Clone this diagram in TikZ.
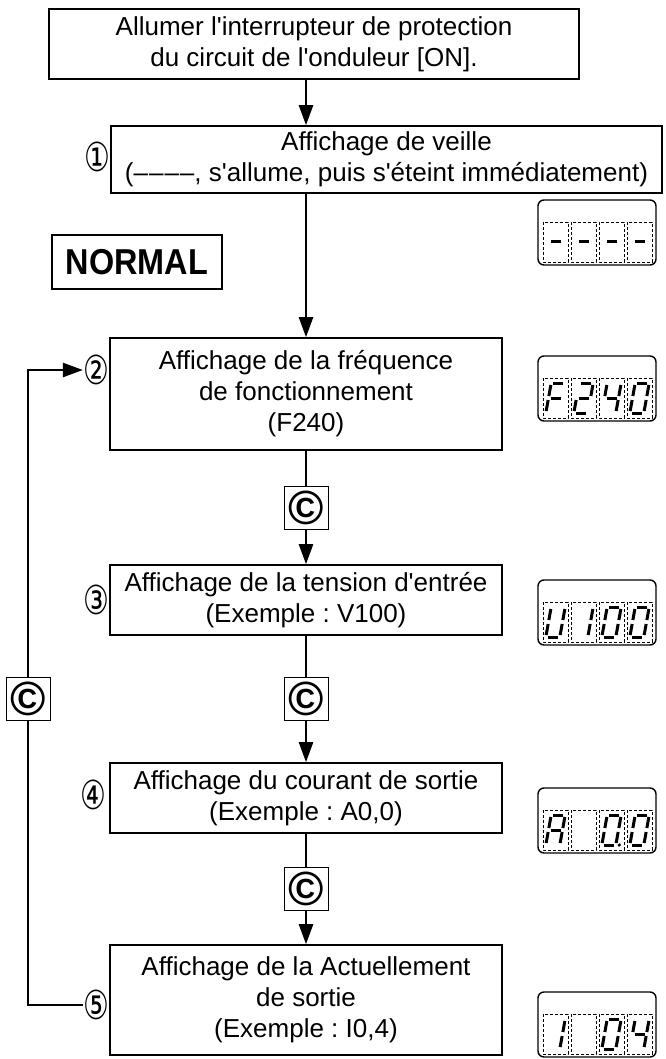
\documentclass[tikz,border=0pt]{standalone}
\usepackage{fontspec}
\setmainfont{Liberation Sans}[Ligatures=TeXOff]
\newfontfamily\circfont{DejaVu Sans}
\usetikzlibrary{arrows.meta,positioning}

% seven-segment pieces (local coordinates, y pointing down)
\newcommand{\lcdsega}{\draw[segline] (-5,-15) -- (5,-15);}
\newcommand{\lcdsegb}{\draw[segline] (7,-13) -- (7,-2);}
\newcommand{\lcdsegc}{\draw[segline] (7,2) -- (7,13);}
\newcommand{\lcdsegd}{\draw[segline] (-5,15) -- (5,15);}
\newcommand{\lcdsege}{\draw[segline] (-7,2) -- (-7,13);}
\newcommand{\lcdsegf}{\draw[segline] (-7,-13) -- (-7,-2);}
\newcommand{\lcdsegg}{\draw[segline] (-5,0) -- (5,0);}
\newcommand{\lcdsegp}{\fill (10.5,15) circle (1.8pt);}

% display frame: name, top edge
\newcommand{\lcdframe}[2]{%
  \node[lcdbox] (#1) at (597,#2+32.5) {};
  \foreach \i in {0,...,3}
    \draw[celldash] ({543+28*\i},#2+22) rectangle ({568+28*\i},#2+62);}

% one digit: cell index, top edge of display, segments
\newcommand{\lcddigit}[3]{%
  \begin{scope}[shift={({555.5+28*#1},{#2+42})}, xslant=0.18]
    \foreach \sg in {#3} {\csname lcdseg\sg\endcsname}
  \end{scope}}

% circled step number
\newcommand{\stepnum}[1]{\scalebox{0.72}[1]{#1}}

\begin{document}
\frenchspacing
\begin{tikzpicture}[x=1pt, y=-1pt,
    flowbox/.style={draw, line width=1.6pt, align=center, inner sep=2pt,
      font=\fontsize{26}{31}\selectfont}, % step boxes
    numlabel/.style={inner sep=0pt, font=\circfont\fontsize{40}{40}\selectfont},
    cbox/.style={draw, line width=1pt, minimum width=44pt, minimum height=43pt,
      inner sep=0pt, font=\fontsize{48}{48}\selectfont\bfseries}, % key boxes
    lcdbox/.style={draw, line width=1.4pt, rounded corners=6pt,
      minimum width=118pt, minimum height=65pt, inner sep=0pt},
    celldash/.style={line width=0.7pt, dash pattern=on 3pt off 2pt},
    segline/.style={line width=3pt},
    link/.style={line width=2.4pt},
    flowarrow/.style={link, -{Triangle[length=20pt, width=14pt]}}
]
    \useasboundingbox (0,0) rectangle (665,1059);

    % main column
    \coordinate (axis) at (306,0);

    % Boxes
    \node[flowbox, minimum width=530pt, minimum height=70pt] (start) at (314,44)
        {Allumer l'interrupteur de protection\\du circuit de l'onduleur [ON].};
    \node[flowbox, minimum width=551pt, minimum height=67pt] (standby) at (386.5,159.5)
        {Affichage de veille\\(–\kern1pt–\kern1pt–\kern1pt–, s'allume, puis s'éteint immédiatement)};
    \node[draw, line width=1.6pt, minimum width=170pt, minimum height=54pt, inner sep=0pt,
        font=\fontsize{36}{36}\selectfont\bfseries] (normal) at (137,262)
        {\scalebox{0.9}[1]{NORMAL}};
    \node[flowbox, minimum width=392pt, minimum height=112pt] (freq) at (306,394)
        {Affichage de la fréquence\\de fonctionnement\\(F240)};
    \node[cbox] (key1) at (306,507.5) {©};
    \node[flowbox, minimum width=392pt, minimum height=70pt] (volt) at (306,600)
        {Affichage de la tension d'entrée\\(Exemple : V100)};
    \node[cbox] (key2) at (306,699) {©};
    \node[flowbox, minimum width=392pt, minimum height=70pt] (curr) at (306,798)
        {Affichage du courant de sortie\\(Exemple : A0,0)};
    \node[cbox] (key3) at (306,889) {©};
    \node[flowbox, minimum width=392pt, minimum height=110pt] (outp) at (306,1000)
        {Affichage de la Actuellement\\de sortie\\(Exemple : I0,4)};
    \node[cbox] (keyloop) at (28,699) {©};

    % Step numbers
    \node[numlabel] (n1) at (97,157) {\stepnum{①}};
    \node[numlabel] (n2) at (96,370) {\stepnum{②}};
    \node[numlabel] (n3) at (96,600) {\stepnum{③}};
    \node[numlabel] (n4) at (93,795) {\stepnum{④}};
    \node[numlabel] (n5) at (96,1005) {\stepnum{⑤}};

    % Connectors
    \draw[flowarrow] (start.south -| axis) -- (standby.north -| axis);
    \draw[flowarrow] (standby.south -| axis) -- (freq.north);
    \draw[link] (freq.south) -- (key1.north);
    \draw[flowarrow] (key1.south) -- (volt.north);
    \draw[link] (volt.south) -- (key2.north);
    \draw[flowarrow] (key2.south) -- (curr.north);
    \draw[link] (curr.south) -- (key3.north);
    \draw[flowarrow] (key3.south) -- (outp.north);

    % Loop back to step 2
    \draw[link] (n5.west) -| (keyloop.south);
    \draw[flowarrow] (keyloop.north) |- (n2.west);

    % Displays
    \lcdframe{lcd1}{200}
    \foreach \c in {0,...,3} {\lcddigit{\c}{200}{g}}

    \lcdframe{lcd2}{356}
    \lcddigit{0}{356}{a,e,f,g}
    \lcddigit{1}{356}{a,b,g,e,d}
    \lcddigit{2}{356}{f,g,b,c}
    \lcddigit{3}{356}{a,b,c,d,e,f}

    \lcdframe{lcd3}{580}
    \lcddigit{0}{580}{b,c,d,e,f}
    \lcddigit{1}{580}{b,c}
    \lcddigit{2}{580}{a,b,c,d,e,f}
    \lcddigit{3}{580}{a,b,c,d,e,f}

    \lcdframe{lcd4}{788}
    \lcddigit{0}{788}{a,b,c,e,f,g}
    \lcddigit{2}{788}{a,b,c,d,e,f,p}
    \lcddigit{3}{788}{a,b,c,d,e,f}

    \lcdframe{lcd5}{992}
    \lcddigit{0}{992}{b,c}
    \lcddigit{2}{992}{a,b,c,d,e,f}
    \lcddigit{3}{992}{f,g,b,c}

\end{tikzpicture}
\end{document}
